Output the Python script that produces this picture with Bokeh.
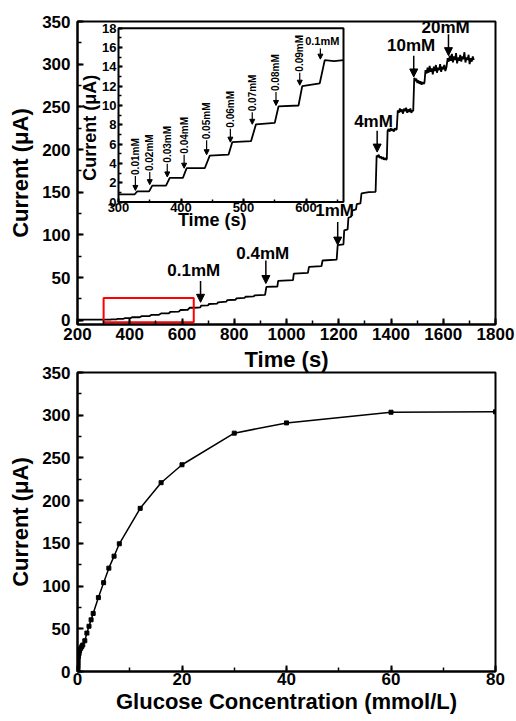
import numpy as np
from math import pi
from bokeh.plotting import figure
from bokeh.models import (Range1d, LinearAxis, SingleIntervalTicker, ColumnDataSource,
                          Arrow, NormalHead, LabelSet, Label)
from bokeh.layouts import column
from bokeh.embed import file_html
from bokeh.resources import INLINE
from bokeh.core.properties import value

# ---------------- data: amperometric i-t trace (time s, current uA) ----------------
t_trace = [200, 300, 326, 330, 349, 354, 376, 382, 403, 409, 438, 446, 476, 482, 512, 520,
           550, 556, 588, 594, 622, 630, 645, 660, 670, 673, 700, 703, 735, 738, 770, 773,
           805, 808, 840, 843, 875, 878, 918, 923, 965, 968, 1025, 1028, 1082, 1086, 1134,
           1138, 1192, 1196, 1218, 1221, 1234, 1237, 1248, 1251, 1266, 1269, 1283, 1287,
           1315, 1341,
           1345, 1349, 1353, 1357, 1361, 1365, 1369, 1373, 1377, 1381, 1384,
           1387, 1391, 1395, 1399, 1403, 1407, 1411, 1415, 1419, 1422,
           1426, 1430, 1434, 1438, 1442, 1446, 1450, 1454, 1458, 1462, 1466, 1470, 1474,
           1478, 1482, 1485,
           1489, 1493, 1497, 1501, 1505, 1509, 1513, 1517, 1521, 1525, 1528,
           1532, 1536, 1540, 1544, 1548, 1552, 1556, 1560, 1564, 1568, 1572, 1576, 1580,
           1584, 1588, 1592, 1596, 1600, 1604, 1608, 1612,
           1617, 1621, 1625, 1629, 1633, 1637, 1641, 1645, 1649, 1653, 1657, 1661, 1665,
           1669, 1673, 1677, 1681, 1685, 1689, 1693, 1697, 1701, 1705, 1709, 1713, 1717]
i_trace = [0.8, 0.8, 0.8, 1.1, 1.1, 1.7, 1.7, 2.5, 2.5, 3.5, 3.5, 4.8, 4.9, 6.2, 6.3, 8.05,
           8.2, 9.9, 10.0, 12.0, 12.3, 14.7, 14.6, 14.7, 15.0, 17.0, 17.5, 19.0, 19.5, 21.0,
           21.8, 23.5, 24.0, 25.5, 26.3, 27.5, 28.0, 29.2, 29.6, 39.0, 39.5, 46.0, 47.0,
           54.5, 55.5, 62.5, 63.5, 70.0, 71.0, 88.0, 89.0, 105.4, 106.5, 120.0, 121.5,
           128.5, 130.0, 136.0, 137.0, 148.5, 150.0, 150.5,
           193, 191, 194, 190, 192, 189, 191, 188, 190, 188, 189,
           222, 224, 221, 225, 222, 224, 221, 225, 223, 224,
           246, 243, 248, 244, 247, 242, 248, 245, 249, 243, 247, 244, 248, 243, 246, 245,
           284, 280, 283, 278, 281, 277, 280, 276, 279, 277, 278,
           293, 289, 296, 290, 298, 291, 295, 288, 297, 292, 299, 290, 296, 293, 300, 291,
           297, 294, 299, 292, 296,
           307, 303, 310, 304, 312, 302, 309, 305, 313, 301, 308, 304, 311, 303, 309, 306,
           314, 302, 308, 305, 311, 300, 307, 303, 309, 305]

# injection arrows on the main trace
main_arrow_t = [671, 921, 1196, 1347, 1487, 1620]
main_arrow_top = [46, 70, 115, 222, 310, 335]
main_arrow_bot = [21, 43, 88, 197, 285, 310]
main_label_text = ["0.1mM", "0.4mM", "1mM", "4mM", "10mM", "20mM"]
main_label_t = [645, 909, 1184, 1333, 1477, 1609]
main_label_i = [58.5, 78, 128.8, 233.4, 322, 342.7]

# zoom box (region shown in inset)
zoom_box_t = [300, 645]
zoom_box_i = [-2.5, 26]

# inset
inset_t_lim = [300, 660]
inset_i_lim = [0, 18]
inset_arrow_t = [327, 350, 378, 405, 441, 479, 514, 552, 590]
inset_arrow_top = [2.7, 3.1, 3.97, 4.9, 6.4, 7.6, 9.3, 11.4, 13.4]
inset_arrow_bot = [1.2, 1.8, 2.6, 3.5, 4.9, 6.2, 8.05, 10.0, 12.1]
inset_label_text = ["0.01mM", "0.02mM", "0.03mM", "0.04mM", "0.05mM",
                    "0.06mM", "0.07mM", "0.08mM", "0.09mM"]
inset_last_arrow = [623, 15.9, 14.8]
inset_last_label = ["0.1mM", 626, 16.1]

# ---------------- data: calibration curve ----------------
conc = [0, 0.01, 0.02, 0.03, 0.04, 0.05, 0.06, 0.07, 0.08, 0.09, 0.1, 0.2, 0.3, 0.4,
        0.6, 0.8, 1.0, 1.4, 1.8, 2.2, 2.6, 3.0, 4.0, 5.0, 6.0, 7.0, 8.0, 12, 16, 20,
        30, 40, 60, 80]
cur = [0, 1.0, 1.7, 2.5, 3.5, 4.8, 6.2, 8.0, 9.9, 12.0, 14.6, 17.5, 21, 24, 27, 29, 31,
       36, 45, 53, 60.5, 68, 86.5, 104, 121, 135, 149.5, 191, 221, 242, 279, 291,
       303.5, 304]

FONT = "Liberation Sans"


def style_axis(ax, tick_size="17px", label_size="22px", tin=6, mtin=4):
    ax.major_label_text_font = FONT
    ax.major_label_text_font_style = "bold"
    ax.major_label_text_font_size = tick_size
    ax.major_label_text_color = "black"
    ax.axis_label_text_font = FONT
    ax.axis_label_text_font_style = "bold"
    ax.axis_label_text_font_size = label_size
    ax.axis_label_text_color = "black"
    ax.major_tick_in = tin
    ax.major_tick_out = 0
    ax.minor_tick_in = mtin
    ax.minor_tick_out = 0
    ax.axis_line_width = 2
    ax.axis_line_color = "black"
    ax.major_tick_line_width = 2
    ax.minor_tick_line_width = 1.5


# ---------------- top figure ----------------
p1 = figure(width=516, height=375, x_range=(200, 1800), y_range=(-5, 350),
            output_backend="svg", toolbar_location=None,
            min_border_left=77, min_border_right=21, min_border_top=21, min_border_bottom=51)
p1.grid.visible = False
p1.outline_line_color = "black"
p1.outline_line_width = 2
p1.xaxis.ticker = SingleIntervalTicker(interval=200, num_minor_ticks=2)
p1.yaxis.ticker = SingleIntervalTicker(interval=50, num_minor_ticks=2)
p1.xaxis.axis_label = "Time (s)"
p1.yaxis.axis_label = "Current (μA)"
style_axis(p1.xaxis[0])
style_axis(p1.yaxis[0])
p1.xaxis.major_label_standoff = 3
p1.xaxis.axis_label_standoff = 4
p1.yaxis.major_label_standoff = 7
p1.yaxis.axis_label_standoff = 6

p1.line(t_trace, i_trace, line_color="black", line_width=1.8)
p1.quad(left=[zoom_box_t[0]], right=[zoom_box_t[1]], bottom=[zoom_box_i[0]],
        top=[zoom_box_i[1]], fill_color=None, line_color="red", line_width=2)

src_ma = ColumnDataSource(dict(t=main_arrow_t, top=main_arrow_top, bot=main_arrow_bot))
p1.add_layout(Arrow(end=NormalHead(size=8, fill_color="black", line_color="black", line_width=1),
                    x_start="t", y_start="top", x_end="t", y_end="bot", source=src_ma,
                    line_width=1.5, line_color="black"))
src_ml = ColumnDataSource(dict(t=main_label_t, i=main_label_i, text=main_label_text))
p1.add_layout(LabelSet(x="t", y="i", text="text", source=src_ml, text_align="center",
                       text_baseline="middle", text_font=value(FONT),
                       text_font_style="bold", text_font_size="17px", text_color="black"))

# inset (drawn with its own ranges inside the frame)
p1.extra_x_ranges = {"ix": Range1d(234.4, 903.2)}
p1.extra_y_ranges = {"iy": Range1d(-12.69, 18.70)}
p1.quad(left=[inset_t_lim[0]], right=[inset_t_lim[1]], bottom=[inset_i_lim[0]],
        top=[inset_i_lim[1]], x_range_name="ix", y_range_name="iy",
        fill_color="white", line_color="black", line_width=2)
ta = np.array(t_trace, dtype=float)
ia = np.array(i_trace, dtype=float)
m = (ta >= inset_t_lim[0]) & (ta <= inset_t_lim[1])
p1.line(ta[m], ia[m], x_range_name="ix", y_range_name="iy", line_color="black", line_width=1.8)

iax = LinearAxis(x_range_name="ix", y_range_name="iy", fixed_location=inset_i_lim[0],
                 bounds=tuple(inset_t_lim),
                 ticker=SingleIntervalTicker(interval=100, num_minor_ticks=2))
style_axis(iax, tick_size="13px", tin=4, mtin=3)
iax.axis_line_color = None
iax.major_label_standoff = 1
p1.add_layout(iax, "below")
iay = LinearAxis(x_range_name="ix", y_range_name="iy", fixed_location=inset_t_lim[0],
                 bounds=tuple(inset_i_lim),
                 ticker=SingleIntervalTicker(interval=2, num_minor_ticks=2))
style_axis(iay, tick_size="13px", tin=4, mtin=3)
iay.axis_line_color = None
iay.major_label_standoff = 2
p1.add_layout(iay, "left")

p1.add_layout(Label(x=450, y=-1.9, x_range_name="ix", y_range_name="iy", text="Time (s)",
                    text_align="center", text_baseline="middle", text_font=FONT,
                    text_font_style="bold", text_font_size="18px", text_color="black"))
p1.add_layout(Label(x=255, y=7.7, x_range_name="ix", y_range_name="iy", text="Current (μA)",
                    angle=pi / 2, text_align="center", text_baseline="middle", text_font=FONT,
                    text_font_style="bold", text_font_size="18px", text_color="black"))

src_ia = ColumnDataSource(dict(t=inset_arrow_t, top=inset_arrow_top, bot=inset_arrow_bot,
                               text=inset_label_text))
p1.add_layout(Arrow(end=NormalHead(size=5, fill_color="black", line_color="black", line_width=1),
                    x_start="t", y_start="top", x_end="t", y_end="bot", source=src_ia,
                    x_range_name="ix", y_range_name="iy", line_width=1.2, line_color="black"))
p1.add_layout(LabelSet(x="t", y="top", text="text", source=src_ia, angle=pi / 2,
                       x_range_name="ix", y_range_name="iy", x_offset=0, y_offset=1,
                       text_align="left", text_baseline="middle", text_font=value(FONT),
                       text_font_style="bold", text_font_size="10px", text_color="black"))
p1.add_layout(Arrow(end=NormalHead(size=5, fill_color="black", line_color="black", line_width=1),
                    x_start=inset_last_arrow[0], y_start=inset_last_arrow[1],
                    x_end=inset_last_arrow[0], y_end=inset_last_arrow[2],
                    x_range_name="ix", y_range_name="iy", line_width=1.2, line_color="black"))
p1.add_layout(Label(x=inset_last_label[1], y=inset_last_label[2], text=inset_last_label[0],
                    x_range_name="ix", y_range_name="iy", text_align="center",
                    text_baseline="bottom", text_font=FONT, text_font_style="bold",
                    text_font_size="11px", text_color="black"))

# ---------------- bottom figure ----------------
p2 = figure(width=516, height=356, x_range=(0, 80), y_range=(0, 350),
            output_backend="svg", toolbar_location=None,
            min_border_left=77, min_border_right=21, min_border_top=12, min_border_bottom=45,
            border_fill_color=None, background_fill_color=None)
p2.styles = {"margin-top": "-15px"}
p2.grid.visible = False
p2.outline_line_color = "black"
p2.outline_line_width = 2
p2.xaxis.ticker = SingleIntervalTicker(interval=20, num_minor_ticks=2)
p2.yaxis.ticker = SingleIntervalTicker(interval=50, num_minor_ticks=2)
p2.xaxis.axis_label = "Glucose Concentration (mmol/L)"
p2.yaxis.axis_label = "Current (μA)"
style_axis(p2.xaxis[0])
style_axis(p2.yaxis[0])
p2.xaxis.major_label_standoff = 1
p2.xaxis.axis_label_standoff = 1
p2.yaxis.major_label_standoff = 7
p2.yaxis.axis_label_standoff = 6

p2.line(conc, cur, line_color="black", line_width=1.5)
p2.scatter(conc, cur, marker="square", size=4, color="black")

layout = column(p1, p2)
open("out.html", "w").write(file_html(layout, INLINE))
